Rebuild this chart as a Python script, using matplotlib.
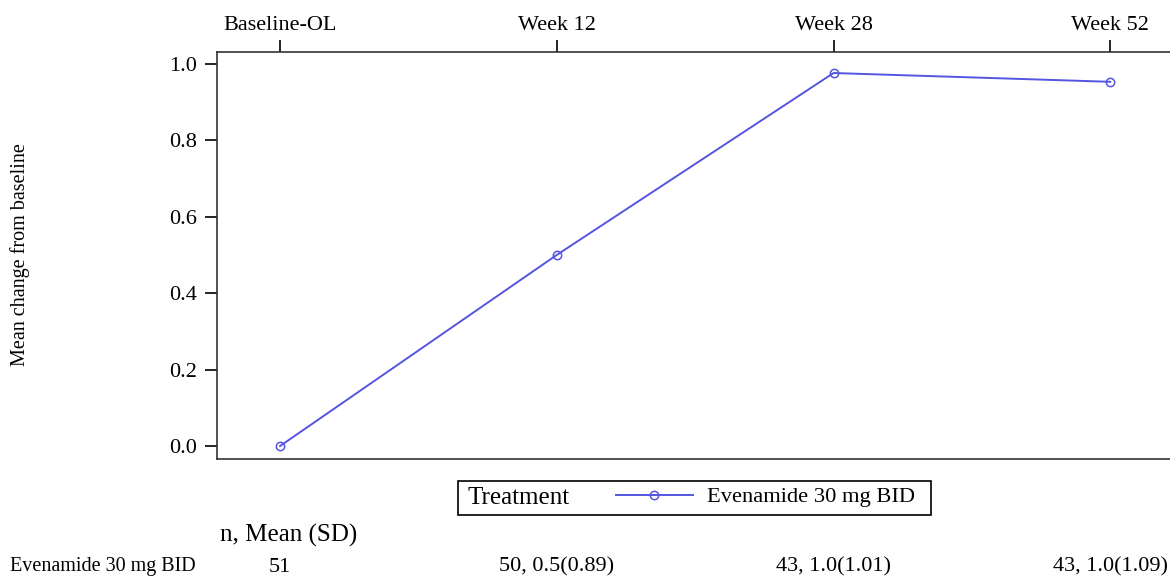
import matplotlib
matplotlib.use("Agg")
import matplotlib.pyplot as plt
from matplotlib.patches import Rectangle
from matplotlib.lines import Line2D
import matplotlib.transforms as mtransforms

plt.rcParams['font.family'] = ['Liberation Serif', 'DejaVu Serif']

visits = ['Baseline-OL', 'Week 12', 'Week 28', 'Week 52']
mean_change = [0.0, 0.50, 0.976, 0.953]
treatment = 'Evenamide 30 mg BID'
table_vals = ['51', '50, 0.5(0.89)', '43, 1.0(1.01)', '43, 1.0(1.09)']

W, H = 1170, 580
fig = plt.figure(figsize=(W / 100, H / 100), dpi=100)
ax = fig.add_axes([217 / W, 1 - 459 / H, 1 - 217 / W, (459 - 52) / H])

col = '#5555e0'
x = list(range(len(visits)))
ax.plot(x, mean_change, color=col, lw=1.4, marker='o', ms=6,
        mfc='none', mec=col, mew=1.1)

ax.set_xlim(-0.228, 3.216)
ax.set_ylim(-0.034, 1.031)
ax.set_yticks([0.0, 0.2, 0.4, 0.6, 0.8, 1.0])
ax.set_yticklabels(['0.0', '0.2', '0.4', '0.6', '0.8', '1.0'])
ax.set_xticks(x)
ax.set_xticklabels(visits)
ax.xaxis.tick_top()
ax.tick_params(axis='x', direction='out', length=9, width=1.2, labelsize=16, pad=3)
ax.tick_params(axis='y', direction='out', length=8.5, width=1.2, labelsize=16, pad=6)
ax.spines['right'].set_visible(False)
for s in ['left', 'top', 'bottom']:
    ax.spines[s].set_linewidth(1.2)
    ax.spines[s].set_color('#333333')

fig.text(20 / W, 1 - 255 / H, 'Mean change from baseline', rotation=90,
         ha='center', va='center', fontsize=14.5)

# legend box
fig.patches.append(Rectangle((458 / W, 1 - 515 / H), (931 - 458) / W, 34 / H,
                             transform=fig.transFigure, fill=False,
                             edgecolor='black', lw=1.2))
fig.text(468 / W, 1 - 498 / H, 'Treatment', ha='left', va='center', fontsize=18)
h = Line2D([], [], color=col, lw=1.4, marker='o', ms=6, mfc='none', mec=col, mew=1.1)
fig.legend([h], [treatment], loc='center left', bbox_to_anchor=(616 / W, 1 - 497 / H),
           frameon=False, fontsize=16.2, handlelength=3.4, handletextpad=0.65,
           borderpad=0, borderaxespad=0)

# table below
fig.text(220 / W, 1 - 535 / H, 'n, Mean (SD)', ha='left', va='center', fontsize=18)
fig.text(10 / W, 1 - 567 / H, treatment, ha='left', va='center', fontsize=14.5)
trans = mtransforms.blended_transform_factory(ax.transData, fig.transFigure)
for xi, v in zip(x, table_vals):
    ax.text(xi, 1 - 567 / H, v, transform=trans, ha='center', va='center',
            fontsize=16, clip_on=False)

fig.savefig('out.png', dpi=100)
